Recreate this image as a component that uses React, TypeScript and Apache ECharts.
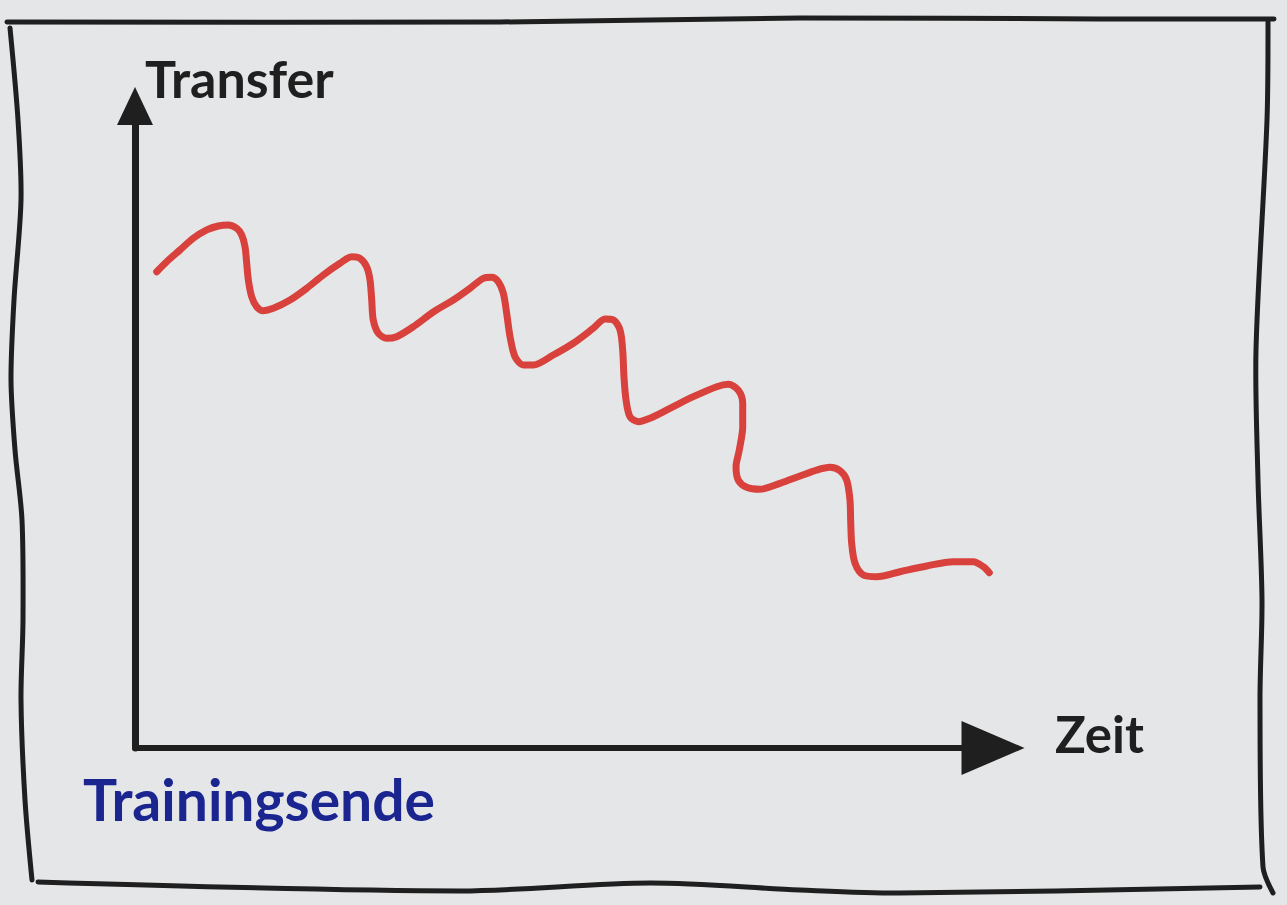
import React, { useEffect, useRef } from "react";
import * as echarts from "echarts";

// Hand-drawn curve "Transfer" over "Zeit" (values in axis units 0..100)
const timeValues = [
  2.53, 3.69, 5.24, 6.79, 8.36, 9.71, 10.87, 11.85, 12.44, 12.82, 13.02, 13.21, 13.6, 14.18,
  14.95, 16.12, 18.07, 20.01, 21.95, 23.89, 25.26, 26.22, 27.0, 27.39, 27.59, 27.77, 28.36,
  29.34, 30.5, 32.44, 34.77, 37.1, 39.04, 40.59, 41.57, 42.34, 42.93, 43.32, 43.71, 44.29,
  45.26, 46.42, 48.75, 51.08, 53.41, 54.78, 55.75, 56.53, 56.84, 56.99, 57.23, 57.69, 58.66,
  60.02, 62.35, 65.07, 67.8, 69.15, 70.31, 70.83, 70.83, 70.43, 70.05, 70.31, 71.29, 72.84,
  75.17, 77.51, 79.45, 81.0, 82.17, 82.95, 83.33, 83.41, 83.53, 83.92, 84.88, 86.45, 89.16,
  92.27, 95.37, 97.7, 98.87, 99.57,
];
const transferValues = [
  74.19, 75.75, 77.57, 79.39, 80.69, 81.31, 81.46, 80.95, 79.91, 78.08, 75.5, 72.9, 70.3, 68.74,
  68.12, 68.49, 69.78, 71.6, 73.68, 75.5, 76.53, 76.28, 74.97, 72.9, 69.78, 66.67, 64.6,
  63.82, 64.07, 65.62, 67.91, 69.78, 71.6, 73.16, 73.32, 72.63, 70.83, 67.71, 64.07, 60.95,
  59.66, 59.66, 61.21, 63.04, 65.37, 66.82, 66.67, 65.11, 61.99, 57.83, 54.21, 51.6, 50.83,
  51.36, 52.91, 54.72, 56.28, 56.65, 55.76, 53.69, 50.05, 46.42, 43.82, 41.74, 40.61, 40.3,
  41.23, 42.37, 43.3, 43.72, 43.19, 41.74, 38.63, 35.51, 31.88, 28.77, 26.95, 26.68, 27.46,
  28.35, 29.02, 29.02, 28.24, 27.31,
];

const yAxisName = "Transfer";
const xAxisName = "Zeit";
const markerLabel = "Trainingsende";

const INK = "#1f1f1f";
const RED = "#d8413c";
const BLUE = "#1b2590";
const PAPER = "#e4e6e8";
const HAND_FONT = "Lato";

export default function App() {
  const ref = useRef<HTMLDivElement>(null);

  useEffect(() => {
    if (!ref.current) return;
    const chart = echarts.init(ref.current, undefined, { renderer: "svg" });
    const frameStyle = { stroke: INK, lineWidth: 5, lineCap: "round", lineJoin: "round", fill: "none" };
    chart.setOption({
      animation: false,
      backgroundColor: PAPER,
      grid: { left: 135, right: 294, top: 106, bottom: 157, containLabel: false },
      xAxis: {
        type: "value",
        min: 0,
        max: 100,
        name: xAxisName,
        nameLocation: "end",
        nameGap: 62,
        nameTextStyle: {
          color: INK,
          fontFamily: HAND_FONT,
          fontWeight: "bold",
          fontSize: 51,
          lineHeight: 30,
          align: "left",
          verticalAlign: "bottom",
        },
        axisLine: {
          show: true,
          onZero: false,
          lineStyle: { color: INK, width: 6, cap: "round" },
          symbol: ["none", "triangle"],
          symbolSize: [54, 63],
        },
        axisTick: { show: false },
        axisLabel: { show: false },
        splitLine: { show: false },
      },
      yAxis: {
        type: "value",
        min: 0,
        max: 100,
        name: yAxisName,
        nameLocation: "end",
        nameGap: 2,
        nameTextStyle: {
          color: INK,
          fontFamily: HAND_FONT,
          fontWeight: "bold",
          fontSize: 52,
          align: "left",
          verticalAlign: "bottom",
          padding: [0, 0, 0, 10],
        },
        axisLine: {
          show: true,
          onZero: false,
          lineStyle: { color: INK, width: 7, cap: "round" },
          symbol: ["none", "triangle"],
          symbolSize: [36, 38],
        },
        axisTick: { show: false },
        axisLabel: { show: false },
        splitLine: { show: false },
      },
      series: [
        {
          type: "line",
          data: timeValues.map((t, i) => [t, transferValues[i]]),
          smooth: 0.3,
          showSymbol: false,
          lineStyle: { color: RED, width: 7, cap: "round", join: "round" },
          z: 5,
        },
      ],
      graphic: [
        {
          type: "polyline",
          shape: { points: [[7, 22], [500, 22], [800, 18], [1100, 19], [1274, 19]], smooth: 0.3 },
          style: frameStyle,
          silent: true,
        },
        {
          type: "polyline",
          shape: {
            points: [[1268, 22], [1267, 120], [1256, 350], [1258, 480], [1262, 600], [1260, 700], [1263, 867], [1273, 893]],
            smooth: 0.3,
          },
          style: frameStyle,
          silent: true,
        },
        {
          type: "polyline",
          shape: {
            points: [[10, 28], [18, 120], [21, 200], [14, 300], [11, 380], [15, 450], [22, 520], [23, 620], [21, 700], [25, 800], [32, 880]],
            smooth: 0.3,
          },
          style: frameStyle,
          silent: true,
        },
        {
          type: "polyline",
          shape: { points: [[38, 882], [460, 891], [650, 883], [800, 890], [900, 893], [1260, 887]], smooth: 0.3 },
          style: frameStyle,
          silent: true,
        },
        {
          type: "text",
          x: 83,
          y: 827,
          style: {
            text: markerLabel,
            fill: BLUE,
            font: `bold 57px ${HAND_FONT}`,
            textAlign: "left",
            textVerticalAlign: "bottom",
          },
          silent: true,
        },
      ],
    });
    return () => chart.dispose();
  }, []);

  return (
    <div
      ref={ref}
      style={{ position: "absolute", left: 0, top: 0, width: 1287, height: 905 }}
    />
  );
}
